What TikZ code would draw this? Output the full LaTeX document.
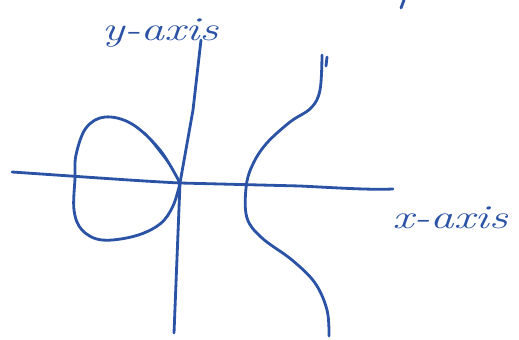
\documentclass[tikz,border=0pt]{standalone}
\usepackage{tikz}
\usetikzlibrary{positioning}
\definecolor{ink}{RGB}{42,82,165}

\begin{document}
\begin{tikzpicture}[
  x=0.02cm, y=-0.02cm,
  pen/.style={draw=ink, line width=1.6pt, line cap=round, line join=round},
  hand/.style={text=ink, font=\LARGE\itshape, inner sep=0pt}
]
\useasboundingbox (0,0) rectangle (519,340);

% Axes
\coordinate (xl) at (12,172);
\coordinate (org) at (180,183);
\coordinate (xr) at (393,189);
\coordinate (yt) at (201,40);
\coordinate (yb) at (174,333);
\draw[pen] (xl) .. controls (100,178) and (140,181) .. (org) -- (300,186) .. controls (340,188) and (370,190) .. (xr);
\draw[pen] (yt) -- (193,110) -- (org) -- (yb);

% Labels
\node[hand, xscale=1.55, yscale=1.1] (ylab) at (160,33) {y-axis};
\node[hand, xscale=1.55, yscale=1.1] (xlab) at (450,218) {x-axis};

% Loop
\draw[pen] plot[smooth, tension=0.6] coordinates {(org) (160,150) (132,124) (105,117) (86,128) (76,155) (75,178) (74,210) (82,230) (102,240) (135,236) (160,224) (173,206) (org)};
\draw[pen, line width=0.9pt] (145,133) -- (170,165);

% Right branch
\draw[pen] plot[smooth, tension=0.6] coordinates {(322,55) (320,90) (311,108) (290,122) (266,144) (252,166) (246,188) (247,218) (262,238) (292,260) (315,283) (327,310) (329,336)};
\draw[pen] (327,57) -- (326,66);
\draw[pen] (404,0) -- (401,8);

\end{tikzpicture}
\end{document}
